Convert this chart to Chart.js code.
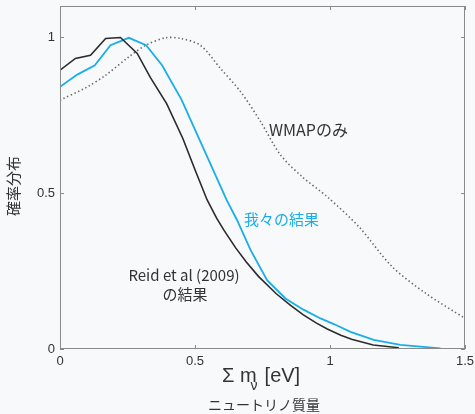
<!DOCTYPE html>
<html>
<head>
<meta charset="utf-8">
<script src="https://cdn.jsdelivr.net/npm/chart.js@4.4.0/dist/chart.umd.min.js"></script>
<style>
html,body{margin:0;padding:0;background:#f7f9fb;}
#wrap{width:475px;height:414px;}
</style>
</head>
<body>
<div id="wrap"><canvas id="c" width="475" height="414"></canvas></div>
<script>
// ---- data ----
const reidX = [0,0.057,0.113,0.169,0.224,0.286,0.335,0.395,0.455,0.50,0.545,0.58,0.607,0.65,0.69,0.735,0.80,0.854,0.90,0.95,0.99,1.04,1.08,1.16,1.255];
const reidY = [0.894,0.932,0.942,0.996,0.999,0.948,0.87,0.787,0.675,0.575,0.478,0.42,0.381,0.325,0.279,0.233,0.178,0.140,0.110,0.083,0.064,0.044,0.031,0.013,0.004];

const oursX = [0,0.064,0.129,0.187,0.255,0.319,0.378,0.45,0.52,0.617,0.656,0.706,0.767,0.835,0.90,0.965,1.014,1.076,1.162,1.261,1.409];
const oursY = [0.841,0.88,0.91,0.974,0.998,0.974,0.91,0.80,0.665,0.478,0.413,0.317,0.221,0.162,0.127,0.098,0.080,0.055,0.029,0.013,0.002];

const wmapX = [0,0.1,0.169,0.255,0.32,0.39,0.446,0.52,0.594,0.669,0.743,0.817,0.90,0.99,1.107,1.23,1.354,1.5];
const wmapY = [0.798,0.84,0.878,0.937,0.975,0.998,0.996,0.974,0.90,0.825,0.729,0.622,0.55,0.488,0.392,0.264,0.179,0.098];

const xTicks = [0,0.5,1,1.5];
const yTicks = [0,0.5,1];
const xTickLabels = ['0','0.5','1','1.5'];
const yTickLabels = ['0','0.5','1'];

const seriesNames = ['Reid et al (2009) の結果','我々の結果','WMAPのみ'];

function pts(xs, ys){ return xs.map((x,i)=>({x:x,y:ys[i]})); }

const BLUE = '#1aaee8';
const TXT = '#333333';

const decor = {
  id:'decor',
  afterDraw(chart){
    const ctx = chart.ctx;
    const a = chart.chartArea;
    const xs = chart.scales.x, ys = chart.scales.y;
    ctx.save();
    // box
    ctx.strokeStyle = '#8a8a8a';
    ctx.lineWidth = 1;
    ctx.strokeRect(a.left+0.5, a.top+0.5, a.right-a.left-1, a.bottom-a.top-1);
    // inward ticks
    ctx.beginPath();
    xTicks.forEach(v=>{
      const px = Math.round(xs.getPixelForValue(v))+0.5;
      ctx.moveTo(px, a.bottom); ctx.lineTo(px, a.bottom-4);
      ctx.moveTo(px, a.top); ctx.lineTo(px, a.top+4);
    });
    yTicks.forEach(v=>{
      const py = Math.round(ys.getPixelForValue(v))+0.5;
      ctx.moveTo(a.left, py); ctx.lineTo(a.left+4, py);
      ctx.moveTo(a.right, py); ctx.lineTo(a.right-4, py);
    });
    ctx.stroke();

    // annotations
    ctx.textBaseline = 'middle';
    ctx.fillStyle = TXT;
    ctx.font = '16px "Noto Sans CJK JP", "Noto Sans", sans-serif';
    ctx.textAlign = 'left';
    ctx.fillText('WMAPのみ', 269, 130);
    ctx.fillStyle = BLUE;
    ctx.font = '15px "Noto Sans CJK JP", sans-serif';
    ctx.fillText('我々の結果', 244, 219);
    ctx.fillStyle = TXT;
    ctx.textAlign = 'center';
    ctx.font = '15px "Noto Sans CJK JP", "Noto Sans", sans-serif';
    ctx.fillText('Reid et al (2009)', 184, 275);
    ctx.fillText('の結果', 185, 294);

    // x title
    ctx.font = '20px "Liberation Sans", Arial, sans-serif';
    ctx.textAlign = 'left';
    ctx.textBaseline = 'alphabetic';
    const t1 = 'Σ m';
    let x0 = 222;
    ctx.fillText(t1, x0, 382);
    const w1 = ctx.measureText(t1).width;
    ctx.font = '14px "Liberation Sans", Arial, sans-serif';
    ctx.fillText('ν', x0 + w1 - 6, 390);
    ctx.font = '20px "Liberation Sans", Arial, sans-serif';
    ctx.fillText('[eV]', x0 + w1 + 8, 382);

    ctx.font = '14px "Noto Sans CJK JP", sans-serif';
    ctx.textAlign = 'center';
    ctx.textBaseline = 'middle';
    ctx.fillText('ニュートリノ質量', 264, 405);

    // y title
    ctx.translate(13, 186);
    ctx.rotate(-Math.PI/2);
    ctx.font = '15px "Noto Sans CJK JP", sans-serif';
    ctx.fillText('確率分布', 0, 0);
    ctx.restore();
  }
};

new Chart(document.getElementById('c'), {
  type:'line',
  data:{
    datasets:[
      {label:seriesNames[0], data:pts(reidX,reidY), borderColor:'#2b2b2b', borderWidth:1.6, pointRadius:0, tension:0, fill:false},
      {label:seriesNames[1], data:pts(oursX,oursY), borderColor:BLUE, borderWidth:1.8, pointRadius:0, tension:0, fill:false},
      {label:seriesNames[2], data:pts(wmapX,wmapY), borderColor:'#666666', borderWidth:1.6, borderDash:[1.4,2.6], pointRadius:0, tension:0.3, fill:false}
    ]
  },
  options:{
    responsive:false,
    animation:false,
    layout:{padding:{top:6,right:10,left:0,bottom:0}},
    plugins:{legend:{display:false},tooltip:{enabled:false}},
    scales:{
      x:{
        type:'linear', min:0, max:1.5,
        afterBuildTicks(s){ s.ticks = xTicks.map(v=>({value:v})); },
        afterFit(s){ s.height = 65; s.paddingLeft = 0; s.paddingRight = 0; },
        grid:{display:false, drawTicks:false},
        border:{display:false},
        ticks:{padding:5, maxRotation:0, autoSkip:false, color:TXT,
          font:{family:'"Liberation Sans", Arial, sans-serif', size:13},
          callback:(v)=>{ const i = xTicks.indexOf(v); return i>=0 ? xTickLabels[i] : ''; }}
      },
      y:{
        type:'linear', min:0, max:1.1,
        afterBuildTicks(s){ s.ticks = yTicks.map(v=>({value:v})); },
        afterFit(s){ s.width = 60; s.paddingTop = 0; s.paddingBottom = 0; },
        grid:{display:false, drawTicks:false},
        border:{display:false},
        ticks:{padding:5, color:TXT,
          font:{family:'"Liberation Sans", Arial, sans-serif', size:13},
          callback:(v)=>{ const i = yTicks.indexOf(v); return i>=0 ? yTickLabels[i] : ''; }}
      }
    }
  },
  plugins:[decor]
});
</script>
</body>
</html>
